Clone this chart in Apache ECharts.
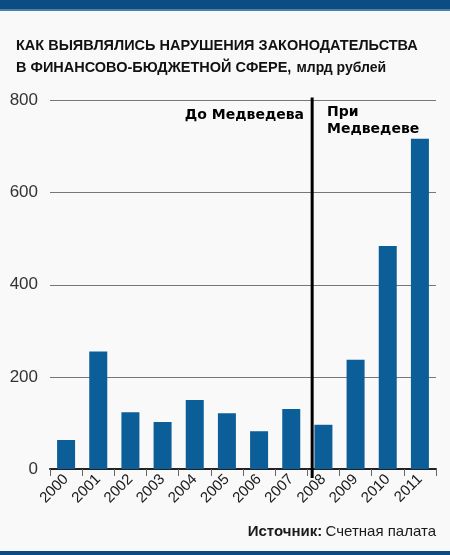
<!DOCTYPE html>
<html>
<head>
<meta charset="utf-8">
<script src="https://cdn.jsdelivr.net/npm/echarts@6/dist/echarts.min.js"></script>
<style>
  html, body { margin: 0; padding: 0; background: #f9f9f9; }
  #main { width: 450px; height: 555px; }
</style>
</head>
<body>
<div id="main"></div>
<script type="text/javascript">
    // данные графика
    var years = ['2000', '2001', '2002', '2003', '2004', '2005', '2006', '2007', '2008', '2009', '2010', '2011'];
    var violations = [63, 255, 123, 102, 150, 121, 82, 130, 96, 237, 484, 717];
    var yTicks = [0, 200, 400, 600, 800];
    var dividerAt = [7.65]; // граница "до / при Медведеве"

    var sans = '"Liberation Sans", Arial, sans-serif';
    var myChart = echarts.init(document.getElementById('main'));

    option = {
        backgroundColor: '#f9f9f9',
        animation: false,
        title: {
            left: 11,
            top: 30,
            text: '{h|КАК ВЫЯВЛЯЛИСЬ НАРУШЕНИЯ ЗАКОНОДАТЕЛЬСТВА}\n{h|В ФИНАНСОВО-БЮДЖЕТНОЙ СФЕРЕ,} {s|млрд рублей}',
            textStyle: {
                rich: {
                    h: { fontFamily: sans, fontWeight: 'bold', fontSize: 14.5, color: '#111', lineHeight: 22 },
                    s: { fontFamily: sans, fontWeight: 'bold', fontSize: 14, color: '#111', lineHeight: 22 }
                }
            }
        },
        graphic: [
            { type: 'rect', left: 0, top: 0, shape: { width: 450, height: 9 }, style: { fill: '#0b4c84' } },
            { type: 'rect', left: 0, top: 9, shape: { width: 450, height: 2 }, style: { fill: '#4f7fa8' } },
            { type: 'rect', left: 0, top: 551, shape: { width: 450, height: 4 }, style: { fill: '#0b4c84' } },
            { type: 'text', right: 146, top: 108, style: { text: 'До Медведева', font: 'bold 14px "DejaVu Sans"', fill: '#000' } },
            { type: 'text', left: 327, top: 104, style: { text: 'При\nМедведеве', font: 'bold 14px "DejaVu Sans"', lineHeight: 17, fill: '#000' } },
            { type: 'text', right: 14, top: 524, style: {
                text: '{b|Источник:} {r|Счетная палата}',
                rich: {
                    b: { fontFamily: sans, fontWeight: 'bold', fontSize: 15, fill: '#1a1a1a' },
                    r: { fontFamily: sans, fontSize: 15, fill: '#1a1a1a' }
                }
            } }
        ],
        grid: {
            left: 50,
            right: 14,
            top: 100.5,
            bottom: 86
        },
        xAxis: [
            {
                type: 'category',
                data: years,
                axisLine: { lineStyle: { color: '#222', width: 2 } },
                axisTick: { show: true, length: 7, lineStyle: { color: '#666', width: 1 } },
                axisLabel: { rotate: 45, margin: 8, fontFamily: sans, fontSize: 15, color: '#1a1a1a' }
            },
            {
                type: 'value',
                min: -0.5,
                max: 11.5,
                show: false
            }
        ],
        yAxis: {
            type: 'value',
            min: yTicks[0],
            max: yTicks[yTicks.length - 1],
            interval: 200,
            axisLine: { show: false },
            axisTick: { show: false },
            axisLabel: { margin: 12, fontFamily: sans, fontSize: 17, color: '#333' },
            splitLine: { lineStyle: { color: '#777', width: 1 } }
        },
        series: [
            {
                name: 'Нарушения',
                type: 'bar',
                data: violations,
                barWidth: 18,
                itemStyle: { color: '#0b5e97' }
            },
            {
                type: 'custom',
                xAxisIndex: 1,
                data: dividerAt,
                z: 5,
                renderItem: function (params, api) {
                    var top = api.coord([api.value(0), yTicks[yTicks.length - 1]]);
                    var bottom = api.coord([api.value(0), 0]);
                    return {
                        type: 'line',
                        shape: { x1: top[0], y1: top[1] - 3, x2: bottom[0], y2: bottom[1] + 9 },
                        style: { stroke: '#000', lineWidth: 3 }
                    };
                }
            }
        ]
    };

    myChart.setOption(option);
</script>
</body>
</html>
